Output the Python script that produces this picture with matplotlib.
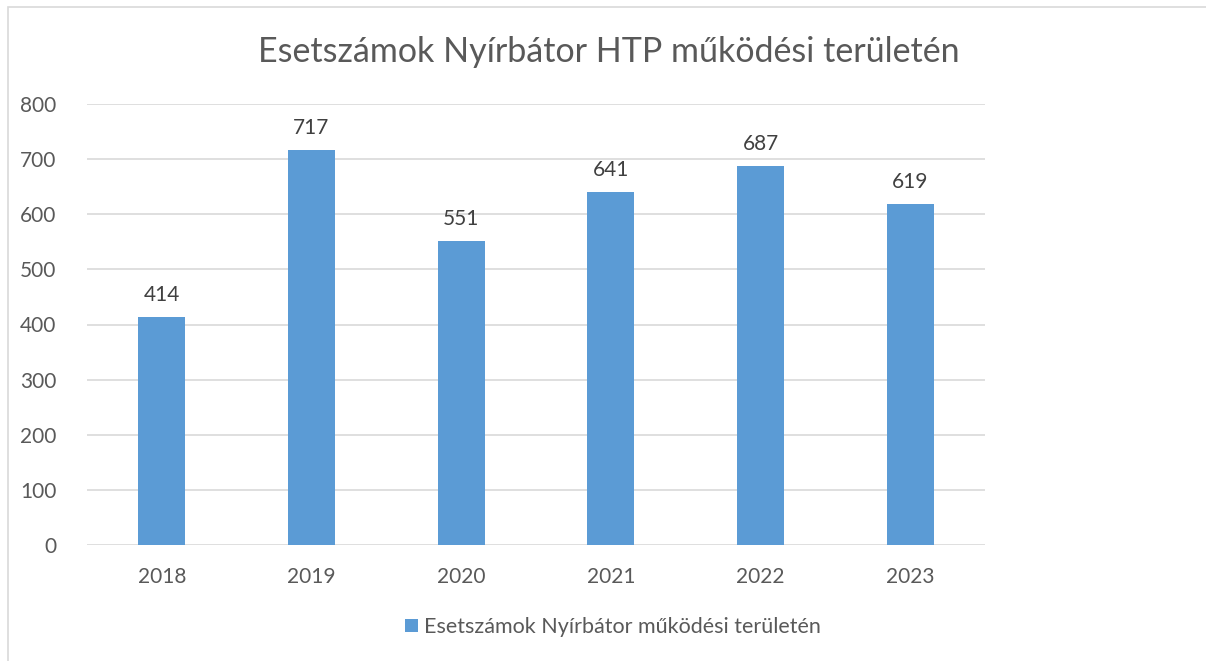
import matplotlib.pyplot as plt
from matplotlib.patches import Rectangle

# data
years = ['2018', '2019', '2020', '2021', '2022', '2023']
cases = [414, 717, 551, 641, 687, 619]
yticks = [0, 100, 200, 300, 400, 500, 600, 700, 800]

title = 'Esetszámok Nyírbátor HTP működési területén'
series_name = 'Esetszámok Nyírbátor működési területén'

BAR = '#5B9BD5'
TXT = '#595959'
GRID = '#D9D9D9'

plt.rcParams['font.family'] = ['Lato', 'DejaVu Sans']

fig = plt.figure(figsize=(12.06, 6.61), dpi=100)

# outer chart frame (light gray)
fig.patches.append(Rectangle((8 / 1206, -0.01), 1.1, (661 - 7) / 661 + 0.01,
                             transform=fig.transFigure, fill=False,
                             edgecolor='#D9D9D9', linewidth=1.2))

ax = fig.add_axes([87 / 1206, 1 - 545 / 661, (985 - 87) / 1206, (545 - 104) / 661])

x = list(range(len(years)))
bars = ax.bar(x, cases, width=0.315, color=BAR, zorder=3, label=series_name)

for xi, v in zip(x, cases):
    ax.text(xi, v + 22, str(v), ha='center', va='bottom', fontsize=15, color='#404040')

ax.set_xlim(-0.5, len(years) - 0.5)
ax.set_ylim(0, 800)
ax.set_yticks(yticks)
ax.set_yticklabels([str(t) for t in yticks])
ax.set_xticks(x)
ax.set_xticklabels(years)
ax.yaxis.grid(True, color=GRID, linewidth=1.2, zorder=0)
ax.tick_params(axis='both', length=0, labelsize=15, colors=TXT)
ax.tick_params(axis='x', pad=16)
ax.tick_params(axis='y', pad=22)
for s in ax.spines.values():
    s.set_visible(False)

fig.text(609 / 1206, 1 - 52 / 661, title, ha='center', va='center', fontsize=24.5, color=TXT)

handles, labels = ax.get_legend_handles_labels()
leg = fig.legend(handles, labels, loc='center', bbox_to_anchor=(613 / 1206, 1 - 627 / 661),
                 frameon=False, fontsize=15.5, handlelength=0.6, handleheight=0.6,
                 handletextpad=0.3, labelcolor=TXT)

fig.savefig('out.png', dpi=100)
